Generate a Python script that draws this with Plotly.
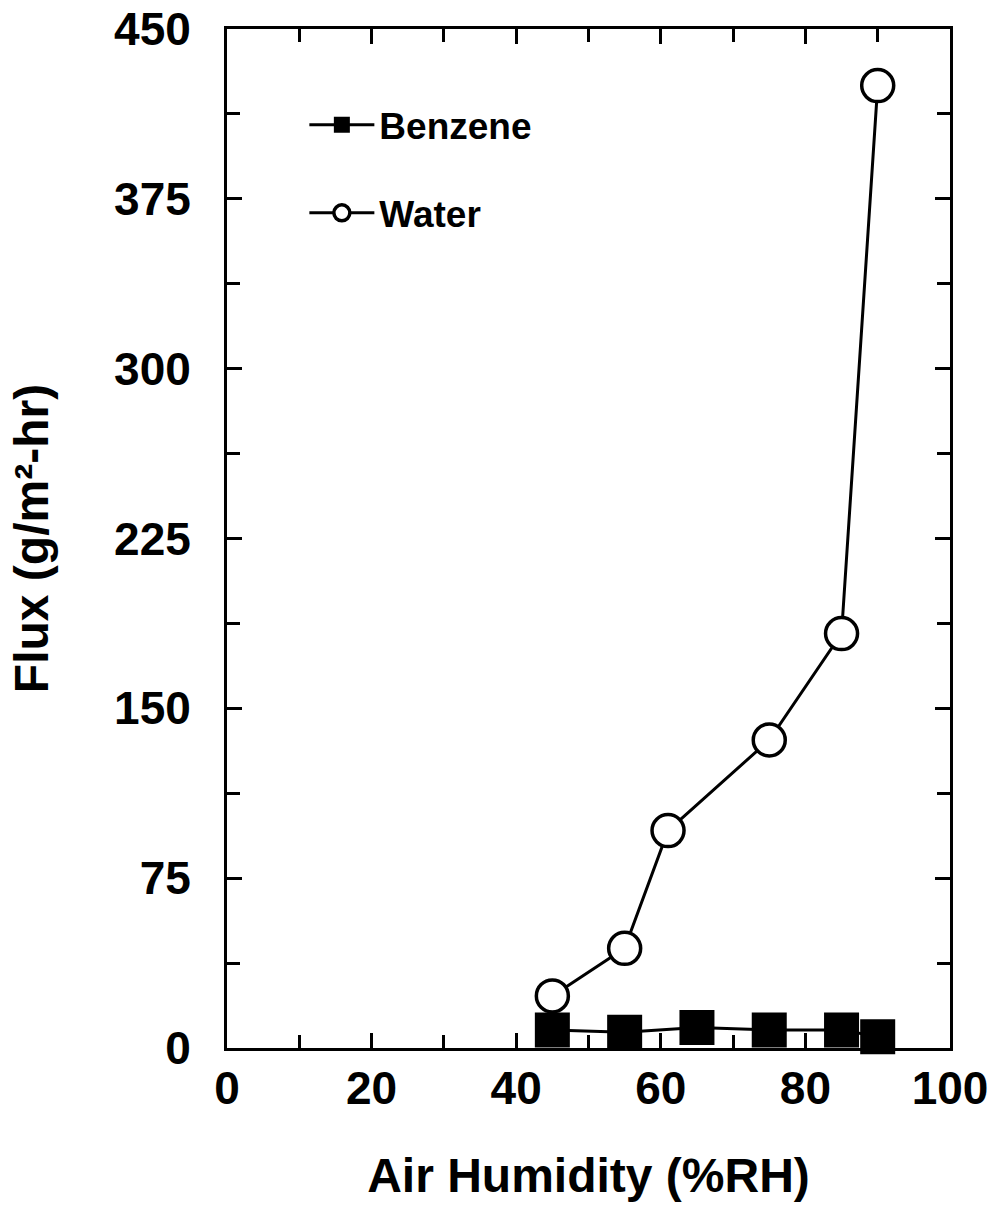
import plotly.graph_objects as go

# Data
benzene_x = [45, 55, 65, 75, 85, 90]
benzene_y = [8, 7, 9, 8, 8, 5]
water_x = [45, 55, 61, 75, 85, 90]
water_y = [23, 44, 96, 136, 183, 425]

x_ticks = [0, 20, 40, 60, 80, 100]
y_ticks = [0, 75, 150, 225, 300, 375, 450]

FONT = "Liberation Sans, Arial, Helvetica, sans-serif"

fig = go.Figure()
fig.add_trace(go.Scatter(
    x=benzene_x, y=benzene_y, name="Benzene", mode="lines+markers",
    line=dict(color="black", width=3),
    marker=dict(symbol="square", size=35, color="black"),
    cliponaxis=False, legendgroup="b",
))
fig.add_trace(go.Scatter(
    x=water_x, y=water_y, name="Water", mode="lines+markers",
    line=dict(color="black", width=3),
    marker=dict(symbol="circle", size=32, color="white",
                line=dict(color="black", width=3.5)),
    cliponaxis=False, legendgroup="w",
))

axis_common = dict(
    showline=True, linecolor="black", linewidth=3, mirror="ticks",
    ticks="inside", ticklen=15, tickwidth=2.5, tickcolor="black",
    showgrid=False, zeroline=False, automargin=False,
    ticklabeloverflow="allow",
    tickfont=dict(family=FONT, size=46, color="black", weight="bold"),
)

fig.update_xaxes(
    **axis_common, range=[0, 100], tickvals=x_ticks,
    minor=dict(dtick=10, ticks="inside", ticklen=13, tickwidth=2.5, tickcolor="black", showgrid=False),
    title=dict(text="Air Humidity (%RH)", standoff=46,
               font=dict(family=FONT, size=48, color="black", weight="bold")),
    ticklabelstandoff=-2,
)
fig.update_yaxes(
    **axis_common, range=[0, 450], tickvals=y_ticks,
    minor=dict(dtick=37.5, ticks="inside", ticklen=13, tickwidth=2.5, tickcolor="black", showgrid=False),
    title=dict(text="Flux (g/m²-hr)", standoff=51,
               font=dict(family=FONT, size=48, color="black", weight="bold")),
    ticklabelstandoff=24,
)

fig.update_layout(
    width=996, height=1213,
    margin=dict(l=227, r=46, t=29, b=165),
    paper_bgcolor="white", plot_bgcolor="white",
    showlegend=True,
    legend=dict(x=0.107, y=0.936, xanchor="left", yanchor="top",
                bgcolor="rgba(0,0,0,0)", tracegroupgap=37, itemwidth=65,
                font=dict(family=FONT, size=37, color="black", weight="bold")),
)

fig.write_html("out.html", config={"displayModeBar": False},
               post_script="document.body.style.margin='0px';")
